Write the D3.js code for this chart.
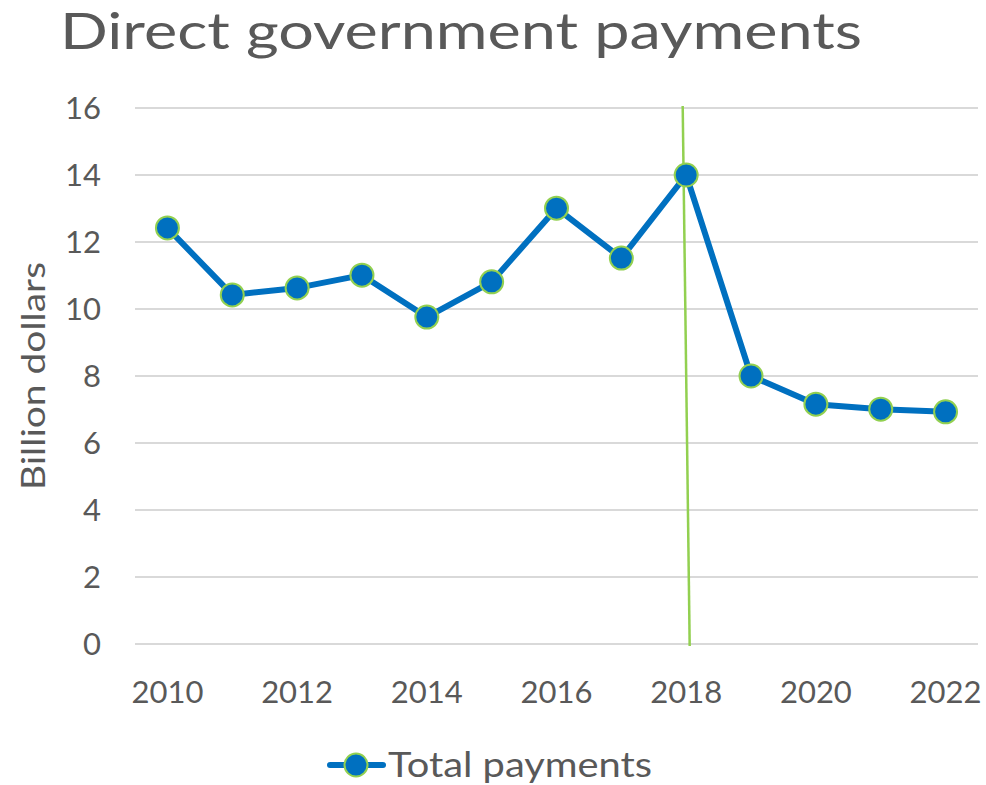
<!DOCTYPE html>
<html>
<head>
<meta charset="utf-8">
<script src="https://cdn.jsdelivr.net/npm/d3@7"></script>
<style>
  body { margin: 0; background: #fff; }
  text { font-family: Lato, "Open Sans", sans-serif; fill: #595959; }
</style>
</head>
<body>
<div id="viz"></div>
<script>
const years = ['2010', '2011', '2012', '2013', '2014', '2015', '2016', '2017', '2018', '2019', '2020', '2021', '2022'];
const payments = [12.42, 10.42, 10.63, 11.01, 9.76, 10.81, 13.01, 11.52, 14.0, 8.0, 7.16, 7.01, 6.93];
const yTicks = [0, 2, 4, 6, 8, 10, 12, 14, 16];
const xLabels = ['2010', '2012', '2014', '2016', '2018', '2020', '2022'];
const markerYear = '2018';

const width = 986,
    height = 785,
    margin = { top: 108, right: 8, bottom: 141, left: 135 };

const svg = d3.select('#viz').append('svg')
    .attr('width', width)
    .attr('height', height);

const x = d3.scaleBand()
    .domain(years)
    .range([margin.left, width - margin.right]);

const y = d3.scaleLinear()
    .domain([0, 16])
    .range([height - margin.bottom, margin.top]);

const cx = d => x(d) + x.bandwidth() / 2;

// title
svg.append('text')
    .attr('x', 461)
    .attr('y', 49)
    .attr('text-anchor', 'middle')
    .attr('textLength', 802)
    .attr('lengthAdjust', 'spacingAndGlyphs')
    .style('font-size', '50px')
    .text('Direct government payments');

// gridlines
svg.append('g')
    .selectAll('line')
    .data(yTicks)
    .join('line')
    .attr('x1', margin.left)
    .attr('x2', width - margin.right)
    .attr('y1', d => y(d))
    .attr('y2', d => y(d))
    .style('stroke', '#d9d9d9')
    .style('stroke-width', 2);

// y axis labels
svg.append('g')
    .selectAll('text')
    .data(yTicks)
    .join('text')
    .attr('x', 101)
    .attr('y', d => y(d))
    .attr('dy', '0.36em')
    .attr('text-anchor', 'end')
    .style('font-size', '31px')
    .text(d => d);

// x axis labels
svg.append('g')
    .selectAll('text')
    .data(xLabels)
    .join('text')
    .attr('x', d => cx(d))
    .attr('y', 692)
    .attr('dy', '0.36em')
    .attr('text-anchor', 'middle')
    .style('font-size', '31px')
    .text(d => d);

// y axis title
svg.append('text')
    .attr('transform', 'translate(33,' + ((y(0) + y(16)) / 2) + ') rotate(-90)')
    .attr('dy', '0.36em')
    .attr('text-anchor', 'middle')
    .attr('textLength', 228)
    .attr('lengthAdjust', 'spacingAndGlyphs')
    .style('font-size', '33px')
    .text('Billion dollars');

// vertical marker line at 2018
svg.append('line')
    .attr('x1', cx(markerYear) - 3.5)
    .attr('y1', y(16) - 2)
    .attr('x2', cx(markerYear) + 3.5)
    .attr('y2', y(0) + 2)
    .style('stroke', '#92d050')
    .style('stroke-width', 2.5);

// series line
const line = d3.line()
    .x((d, i) => cx(years[i]))
    .y(d => y(d));

svg.append('path')
    .datum(payments)
    .attr('d', line)
    .style('fill', 'none')
    .style('stroke', '#0070c0')
    .style('stroke-width', 6)
    .style('stroke-linejoin', 'round');

svg.append('g')
    .selectAll('circle')
    .data(payments)
    .join('circle')
    .attr('cx', (d, i) => cx(years[i]))
    .attr('cy', d => y(d))
    .attr('r', 11.5)
    .style('fill', '#0070c0')
    .style('stroke', '#92d050')
    .style('stroke-width', 2);

// legend
const legend = svg.append('g');

legend.append('line')
    .attr('x1', 330)
    .attr('x2', 383)
    .attr('y1', 765)
    .attr('y2', 765)
    .style('stroke', '#0070c0')
    .style('stroke-width', 6)
    .style('stroke-linecap', 'round');

legend.append('circle')
    .attr('cx', 356)
    .attr('cy', 765)
    .attr('r', 11.5)
    .style('fill', '#0070c0')
    .style('stroke', '#92d050')
    .style('stroke-width', 2);

legend.append('text')
    .attr('x', 388)
    .attr('y', 765)
    .attr('dy', '0.36em')
    .attr('textLength', 264)
    .attr('lengthAdjust', 'spacingAndGlyphs')
    .style('font-size', '34px')
    .text('Total payments');
</script>
</body>
</html>
